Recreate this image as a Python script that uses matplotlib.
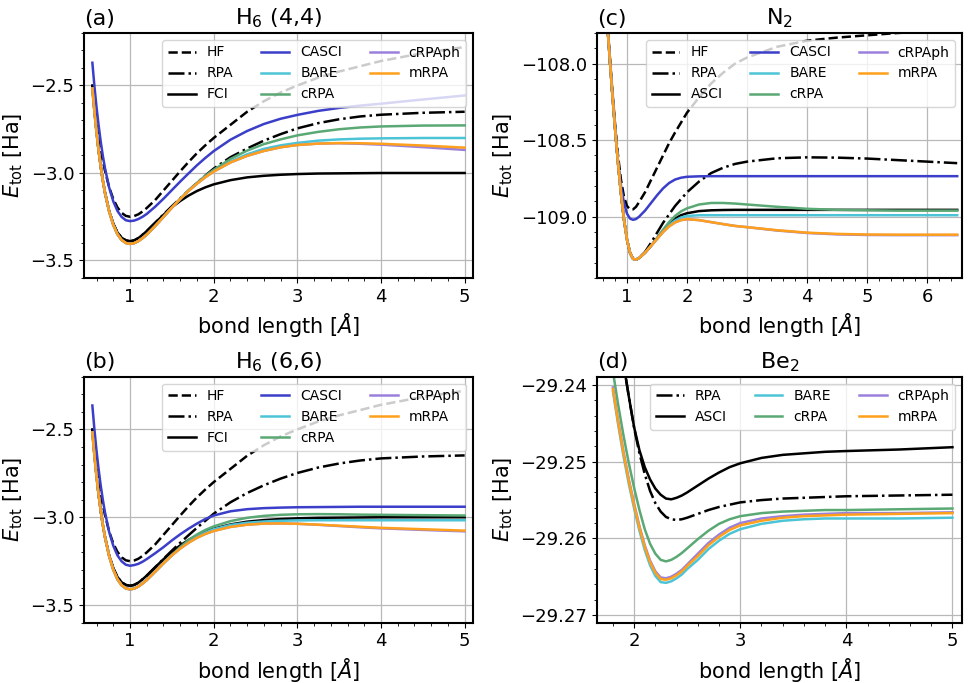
import matplotlib
matplotlib.use("Agg")
import matplotlib.pyplot as plt
from matplotlib.ticker import MultipleLocator, AutoMinorLocator

# ---- data ----
x_h6 = [0.55, 0.575, 0.6, 0.625, 0.65, 0.675, 0.7,
        0.75, 0.8, 0.85, 0.9, 0.95, 1.0, 1.05, 1.1, 1.15, 1.2,
        1.3, 1.4, 1.5, 1.6, 1.7, 1.8, 1.9, 2.0,
        2.2, 2.4, 2.6, 2.8, 3.0,
        3.25, 3.5, 3.75, 4.0, 4.5, 5.0]

# (a) H6 (4,4)
hf_a = [-2.500, -2.609, -2.703, -2.788, -2.862, -2.928, -2.986,
        -3.080, -3.149, -3.197, -3.228, -3.245, -3.250, -3.246, -3.236, -3.220, -3.200,
        -3.155, -3.100, -3.045, -2.990, -2.937, -2.887, -2.842, -2.800,
        -2.725, -2.650, -2.590, -2.540, -2.500,
        -2.455, -2.420, -2.390, -2.360, -2.315, -2.280]
rpa_a = [-2.500, -2.641, -2.764, -2.871, -2.963, -3.042, -3.110,
         -3.216, -3.290, -3.340, -3.370, -3.385, -3.390, -3.385, -3.372, -3.353, -3.332,
         -3.285, -3.237, -3.190, -3.145, -3.100, -3.057, -3.015, -2.975,
         -2.910, -2.860, -2.815, -2.778, -2.745,
         -2.715, -2.693, -2.677, -2.667, -2.656, -2.650]
fci_a = [-2.500, -2.641, -2.764, -2.871, -2.963, -3.042, -3.110,
         -3.216, -3.290, -3.340, -3.370, -3.385, -3.390, -3.385, -3.372, -3.353, -3.332,
         -3.285, -3.239, -3.196, -3.160, -3.129, -3.103, -3.082, -3.065,
         -3.041, -3.025, -3.016, -3.010, -3.006,
         -3.003, -3.002, -3.001, -3.000, -3.000, -3.000]
casci_a = [-2.370, -2.506, -2.625, -2.729, -2.821, -2.901, -2.970,
           -3.082, -3.162, -3.217, -3.251, -3.270, -3.275, -3.272, -3.263, -3.250, -3.234,
           -3.193, -3.147, -3.098, -3.049, -3.002, -2.956, -2.914, -2.875,
           -2.810, -2.760, -2.720, -2.690, -2.668,
           -2.645, -2.628, -2.615, -2.604, -2.580, -2.557]
bare_a = [-2.517, -2.651, -2.770, -2.873, -2.964, -3.043, -3.111,
          -3.219, -3.297, -3.350, -3.383, -3.400, -3.405, -3.401, -3.389, -3.372, -3.352,
          -3.303, -3.251, -3.198, -3.148, -3.102, -3.060, -3.022, -2.990,
          -2.935, -2.893, -2.862, -2.842, -2.828,
          -2.815, -2.808, -2.804, -2.802, -2.800, -2.800]
crpa_a = [-2.517, -2.651, -2.770, -2.873, -2.964, -3.043, -3.111,
          -3.219, -3.297, -3.350, -3.383, -3.400, -3.405, -3.401, -3.389, -3.372, -3.352,
          -3.303, -3.251, -3.198, -3.148, -3.100, -3.056, -3.016, -2.982,
          -2.920, -2.872, -2.835, -2.808, -2.785,
          -2.765, -2.750, -2.740, -2.734, -2.729, -2.728]
crpaph_a = [-2.517, -2.651, -2.770, -2.873, -2.964, -3.043, -3.111,
            -3.219, -3.297, -3.350, -3.383, -3.400, -3.405, -3.401, -3.389, -3.372, -3.352,
            -3.303, -3.251, -3.198, -3.148, -3.102, -3.061, -3.024, -2.992,
            -2.940, -2.902, -2.874, -2.853, -2.840,
            -2.832, -2.830, -2.833, -2.838, -2.852, -2.868]
mrpa_a = [-2.517, -2.651, -2.770, -2.873, -2.964, -3.043, -3.111,
          -3.219, -3.297, -3.350, -3.383, -3.400, -3.405, -3.401, -3.389, -3.372, -3.352,
          -3.303, -3.251, -3.198, -3.148, -3.102, -3.061, -3.024, -2.992,
          -2.940, -2.902, -2.874, -2.853, -2.840,
          -2.832, -2.829, -2.830, -2.833, -2.843, -2.855]

# (b) H6 (6,6)
hf_b = [-2.500, -2.609, -2.703, -2.788, -2.862, -2.928, -2.986,
        -3.080, -3.149, -3.197, -3.228, -3.245, -3.250, -3.246, -3.236, -3.220, -3.200,
        -3.155, -3.100, -3.045, -2.990, -2.937, -2.887, -2.842, -2.800,
        -2.725, -2.650, -2.590, -2.540, -2.500,
        -2.455, -2.420, -2.390, -2.360, -2.315, -2.280]
rpa_b = [-2.500, -2.641, -2.764, -2.871, -2.963, -3.042, -3.110,
         -3.216, -3.290, -3.340, -3.370, -3.385, -3.390, -3.385, -3.372, -3.353, -3.332,
         -3.285, -3.237, -3.190, -3.145, -3.102, -3.060, -3.020, -2.980,
         -2.915, -2.862, -2.818, -2.780, -2.748,
         -2.717, -2.694, -2.677, -2.665, -2.654, -2.648]
fci_b = [-2.500, -2.641, -2.764, -2.871, -2.963, -3.042, -3.110,
         -3.216, -3.290, -3.340, -3.370, -3.385, -3.390, -3.385, -3.372, -3.353, -3.332,
         -3.285, -3.239, -3.196, -3.160, -3.129, -3.103, -3.082, -3.065,
         -3.041, -3.025, -3.016, -3.010, -3.006,
         -3.003, -3.002, -3.001, -3.000, -3.000, -3.000]
casci_b = [-2.364, -2.503, -2.623, -2.728, -2.820, -2.900, -2.970,
           -3.082, -3.162, -3.217, -3.251, -3.270, -3.276, -3.272, -3.265, -3.253, -3.238,
           -3.205, -3.170, -3.132, -3.097, -3.065, -3.036, -3.010, -2.990,
           -2.966, -2.954, -2.948, -2.945, -2.943,
           -2.942, -2.941, -2.940, -2.940, -2.940, -2.940]
bare_b = [-2.517, -2.651, -2.770, -2.873, -2.964, -3.043, -3.111,
          -3.220, -3.299, -3.353, -3.387, -3.405, -3.410, -3.406, -3.394, -3.377, -3.357,
          -3.310, -3.262, -3.217, -3.175, -3.140, -3.110, -3.087, -3.068,
          -3.044, -3.031, -3.024, -3.020, -3.018,
          -3.017, -3.017, -3.017, -3.017, -3.017, -3.017]
crpa_b = [-2.517, -2.651, -2.770, -2.873, -2.964, -3.043, -3.111,
          -3.220, -3.299, -3.353, -3.387, -3.405, -3.410, -3.406, -3.394, -3.377, -3.357,
          -3.310, -3.262, -3.215, -3.170, -3.130, -3.098, -3.072, -3.052,
          -3.022, -3.003, -2.992, -2.986, -2.983,
          -2.982, -2.983, -2.985, -2.986, -2.988, -2.990]
crpaph_b = [-2.517, -2.651, -2.770, -2.873, -2.964, -3.043, -3.111,
            -3.220, -3.299, -3.353, -3.387, -3.405, -3.410, -3.406, -3.394, -3.377, -3.357,
            -3.310, -3.262, -3.217, -3.178, -3.145, -3.117, -3.095, -3.078,
            -3.055, -3.042, -3.036, -3.035, -3.037,
            -3.043, -3.050, -3.057, -3.063, -3.072, -3.080]
mrpa_b = [-2.517, -2.651, -2.770, -2.873, -2.964, -3.043, -3.111,
          -3.220, -3.299, -3.353, -3.387, -3.405, -3.410, -3.406, -3.394, -3.377, -3.357,
          -3.310, -3.262, -3.217, -3.178, -3.145, -3.117, -3.095, -3.078,
          -3.055, -3.042, -3.036, -3.035, -3.037,
          -3.042, -3.048, -3.054, -3.060, -3.068, -3.076]

# (c) N2
x_n2 = [0.65, 0.7, 0.75, 0.8, 0.85, 0.9, 0.95, 1.0, 1.05, 1.1, 1.15, 1.2,
        1.3, 1.4, 1.5, 1.6, 1.7, 1.8, 1.9, 2.0,
        2.2, 2.4, 2.6, 2.8, 3.0,
        3.5, 4.0, 4.5, 5.0, 5.5, 6.0, 6.5]
hf_c = [-107.60, -107.88, -108.15, -108.39, -108.60, -108.76, -108.87, -108.93, -108.952,
        -108.952, -108.935, -108.905,
        -108.84, -108.76, -108.68, -108.60, -108.52, -108.45, -108.385, -108.32,
        -108.22, -108.13, -108.06, -108.00, -107.96,
        -107.89, -107.85, -107.83, -107.815, -107.80, -107.79, -107.78]
rpa_c = [-107.62, -107.90, -108.17, -108.42, -108.65, -108.85, -109.02, -109.15, -109.235,
         -109.275, -109.28, -109.27,
         -109.23, -109.17, -109.105, -109.04, -108.985, -108.93, -108.885, -108.84,
         -108.77, -108.715, -108.68, -108.655, -108.64,
         -108.618, -108.612, -108.614, -108.62, -108.63, -108.64, -108.65]
asci_c = [-107.62, -107.90, -108.17, -108.42, -108.65, -108.85, -109.02, -109.15, -109.235,
          -109.275, -109.28, -109.27,
          -109.235, -109.19, -109.14, -109.09, -109.045, -109.012, -108.99, -108.977,
          -108.963, -108.958, -108.956, -108.955, -108.955,
          -108.955, -108.955, -108.955, -108.955, -108.955, -108.955, -108.955]
casci_c = [-107.62, -107.90, -108.17, -108.42, -108.64, -108.80, -108.91, -108.98, -109.012,
           -109.02, -109.015, -109.0,
           -108.96, -108.91, -108.86, -108.815, -108.78, -108.757, -108.745, -108.739,
           -108.736, -108.735, -108.735, -108.735, -108.735,
           -108.735, -108.735, -108.735, -108.735, -108.735, -108.735, -108.735]
bare_c = [-107.62, -107.90, -108.17, -108.42, -108.65, -108.85, -109.02, -109.15, -109.235,
          -109.275, -109.28, -109.27,
          -109.235, -109.19, -109.145, -109.098, -109.055, -109.025, -109.005, -108.995,
          -108.99, -108.99, -108.99, -108.99, -108.99,
          -108.99, -108.99, -108.99, -108.99, -108.99, -108.99, -108.99]
crpa_c = [-107.62, -107.90, -108.17, -108.42, -108.65, -108.85, -109.02, -109.15, -109.235,
          -109.275, -109.28, -109.27,
          -109.235, -109.19, -109.14, -109.085, -109.035, -108.995, -108.965, -108.945,
          -108.92, -108.91, -108.91, -108.914, -108.92,
          -108.935, -108.948, -108.955, -108.958, -108.96, -108.96, -108.96]
crpaph_c = [-107.62, -107.90, -108.17, -108.42, -108.65, -108.85, -109.02, -109.15, -109.235,
            -109.275, -109.28, -109.27,
            -109.235, -109.19, -109.145, -109.10, -109.063, -109.037, -109.022, -109.016,
            -109.022, -109.035, -109.048, -109.06, -109.068,
            -109.09, -109.106, -109.115, -109.119, -109.12, -109.12, -109.12]
mrpa_c = [-107.62, -107.90, -108.17, -108.42, -108.65, -108.85, -109.02, -109.15, -109.235,
          -109.275, -109.28, -109.27,
          -109.235, -109.19, -109.145, -109.10, -109.063, -109.037, -109.022, -109.016,
          -109.022, -109.035, -109.048, -109.06, -109.068,
          -109.088, -109.104, -109.112, -109.116, -109.117, -109.117, -109.117]

# (d) Be2
x_be2 = [1.8, 1.85, 1.9, 1.95, 2.0, 2.05, 2.1, 2.15, 2.2, 2.25, 2.3, 2.35, 2.4, 2.45, 2.5,
         2.6, 2.7, 2.8, 2.9, 3.0, 3.2, 3.4, 3.6, 3.8, 4.0, 4.5, 5.0]
rpa_d = [-29.2290, -29.2330, -29.2372, -29.2415, -29.2456, -29.2489, -29.2516, -29.2538,
         -29.2554, -29.2565, -29.2572, -29.2575, -29.2576, -29.2575, -29.2573,
         -29.2568, -29.2563, -29.2559, -29.2556, -29.2553, -29.2550, -29.2548, -29.2547,
         -29.2546, -29.2545, -29.2544, -29.2543]
asci_d = [-29.2290, -29.2330, -29.2372, -29.2415, -29.2455, -29.2485, -29.2507, -29.2523,
          -29.2535, -29.2543, -29.2548, -29.2549, -29.2547, -29.2544, -29.2540,
          -29.2531, -29.2522, -29.2514, -29.2507, -29.2502, -29.2495, -29.2491, -29.2489,
          -29.2487, -29.2486, -29.2484, -29.2481]
bare_d = [-29.2408, -29.2452, -29.2493, -29.2529, -29.2561, -29.2590, -29.2615, -29.2635,
          -29.2649, -29.2657, -29.2658, -29.2656, -29.2652, -29.2647, -29.2640,
          -29.2628, -29.2614, -29.2603, -29.2594, -29.2588, -29.2581, -29.2577, -29.2575,
          -29.2574, -29.2574, -29.2574, -29.2573]
crpa_d = [-29.2382, -29.2426, -29.2466, -29.2502, -29.2534, -29.2563, -29.2588, -29.2607,
          -29.2620, -29.2628, -29.2630, -29.2628, -29.2624, -29.2619, -29.2613,
          -29.2601, -29.2590, -29.2581, -29.2575, -29.2571, -29.2567, -29.2565, -29.2564,
          -29.2563, -29.2563, -29.2562, -29.2561]
crpaph_d = [-29.2403, -29.2447, -29.2487, -29.2523, -29.2555, -29.2584, -29.2609, -29.2629,
            -29.2643, -29.2651, -29.2652, -29.2650, -29.2646, -29.2641, -29.2634,
            -29.2620, -29.2606, -29.2595, -29.2586, -29.2580, -29.2574, -29.2571, -29.2569,
            -29.2568, -29.2567, -29.2567, -29.2566]
mrpa_d = [-29.2405, -29.2449, -29.2489, -29.2525, -29.2557, -29.2586, -29.2611, -29.2631,
          -29.2645, -29.2653, -29.2654, -29.2652, -29.2648, -29.2643, -29.2636,
          -29.2623, -29.2609, -29.2598, -29.2589, -29.2583, -29.2577, -29.2573, -29.2571,
          -29.2570, -29.2569, -29.2568, -29.2567]

# ---- styles ----
styles = {
    "HF": dict(color="black", ls="--"),
    "RPA": dict(color="black", ls="-."),
    "FCI": dict(color="black", ls="-"),
    "ASCI": dict(color="black", ls="-"),
    "CASCI": dict(color="#3a3ec8", ls="-"),
    "BARE": dict(color="#4cc4d6", ls="-"),
    "cRPA": dict(color="#5aa874", ls="-"),
    "cRPAph": dict(color="#9a80dc", ls="-"),
    "mRPA": dict(color="#ffa01c", ls="-"),
}

plt.rcParams["axes.linewidth"] = 1.5

fig = plt.figure(figsize=(9.7, 6.83), dpi=100)
W, H = 970, 683
ax_a = fig.add_axes([84 / W, 1 - 278 / H, 389 / W, 245 / H])
ax_c = fig.add_axes([597 / W, 1 - 278 / H, 365 / W, 245 / H])
ax_b = fig.add_axes([84 / W, 1 - 622.7 / H, 389 / W, 246 / H])
ax_d = fig.add_axes([597 / W, 1 - 622.7 / H, 365 / W, 246 / H])

panels = [
    (ax_a, "(a)", "H$_6$ (4,4)", x_h6,
     [("HF", hf_a), ("RPA", rpa_a), ("FCI", fci_a), ("CASCI", casci_a), ("BARE", bare_a),
      ("cRPA", crpa_a), ("cRPAph", crpaph_a), ("mRPA", mrpa_a)],
     (0.45, 5.1), (-3.6, -2.2), 0.5),
    (ax_b, "(b)", "H$_6$ (6,6)", x_h6,
     [("HF", hf_b), ("RPA", rpa_b), ("FCI", fci_b), ("CASCI", casci_b), ("BARE", bare_b),
      ("cRPA", crpa_b), ("cRPAph", crpaph_b), ("mRPA", mrpa_b)],
     (0.45, 5.1), (-3.6, -2.2), 0.5),
    (ax_c, "(c)", "N$_2$", x_n2,
     [("HF", hf_c), ("RPA", rpa_c), ("ASCI", asci_c), ("CASCI", casci_c), ("BARE", bare_c),
      ("cRPA", crpa_c), ("cRPAph", crpaph_c), ("mRPA", mrpa_c)],
     (0.5, 6.58), (-109.4, -107.8), 0.5),
    (ax_d, "(d)", "Be$_2$", x_be2,
     [("RPA", rpa_d), ("ASCI", asci_d), ("BARE", bare_d), ("cRPA", crpa_d),
      ("cRPAph", crpaph_d), ("mRPA", mrpa_d)],
     (1.65, 5.09), (-29.271, -29.2389), 0.01),
]

for ax, tag, title, x, series, xlim, ylim, ystep in panels:
    for name, y in series:
        ax.plot(x, y, label=name, lw=1.8, **styles[name])
    ax.set_xlim(*xlim)
    ax.set_ylim(*ylim)
    ax.xaxis.set_major_locator(MultipleLocator(1))
    ax.yaxis.set_major_locator(MultipleLocator(ystep))
    ax.xaxis.set_minor_locator(AutoMinorLocator(5))
    ax.yaxis.set_minor_locator(AutoMinorLocator(5))
    ax.ticklabel_format(axis="y", useOffset=False)
    ax.grid(True, which="major", color="#b8b8b8", lw=0.9)
    ax.tick_params(labelsize=13)
    ax.set_title(title, fontsize=16)
    ax.set_title(tag, loc="left", fontsize=16)
    ax.set_xlabel(r"bond length [$\AA$]", fontsize=15)
    ax.set_ylabel(r"$E_{\rm tot}$ [Ha]", fontsize=15)
    ax.legend(ncol=3, loc="upper right", fontsize=10)

fig.savefig("out.png", dpi=100)
